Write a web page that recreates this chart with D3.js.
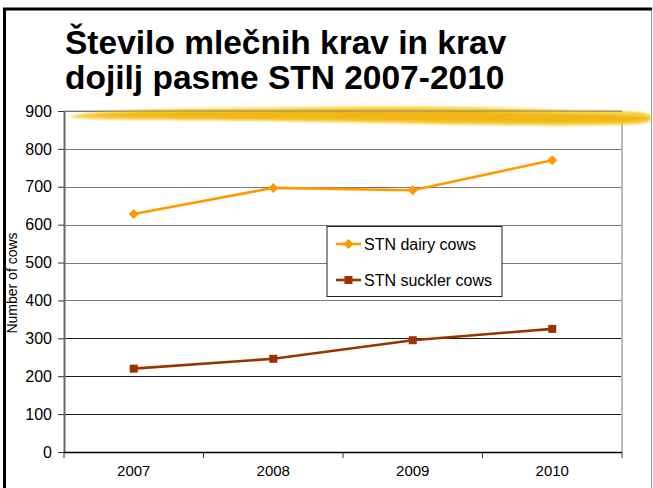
<!DOCTYPE html>
<html>
<head>
<meta charset="utf-8">
<script src="https://cdn.jsdelivr.net/npm/d3@7"></script>
<style>
  html, body { margin: 0; padding: 0; background: #fff; }
  svg { display: block; font-family: "Liberation Sans", Arial, sans-serif; }
</style>
</head>
<body>
<svg id="chart" width="653" height="488"></svg>
<script>
// Chart data
const years = ["2007", "2008", "2009", "2010"];
const dairyCows = [628, 697, 691, 770];
const sucklerCows = [220, 246, 295, 325];
const yTicks = [0, 100, 200, 300, 400, 500, 600, 700, 800, 900];
const seriesNames = ["STN dairy cows", "STN suckler cows"];
const titleLines = ["Število mlečnih krav in krav", "dojilj pasme STN 2007-2010"];
const yTitle = "Number of cows";

const svg = d3.select("#chart");
const W = 653, H = 488;
const plot = { left: 64, right: 622, top: 111, bottom: 452 };

// Slide frame
svg.append("line").attr("x1", 4.5).attr("x2", 4.5).attr("y1", 8).attr("y2", H)
  .attr("stroke", "#000").attr("stroke-width", 3);
svg.append("line").attr("x1", 3).attr("x2", 652).attr("y1", 9).attr("y2", 9)
  .attr("stroke", "#000").attr("stroke-width", 3);
svg.append("line").attr("x1", 651.5).attr("x2", 651.5).attr("y1", 10).attr("y2", H)
  .attr("stroke", "#999").attr("stroke-width", 1);

// Title
svg.append("g").selectAll("text").data(titleLines).join("text")
  .attr("x", 65).attr("y", (d, i) => 54 + i * 35)
  .attr("font-size", 33.5).attr("font-weight", "bold").attr("fill", "#000")
  .text(d => d);

// Scales
const x = d3.scaleBand().domain(years).range([plot.left, plot.right]);
const y = d3.scaleLinear().domain([0, 900]).range([plot.bottom, plot.top]);

// Gridlines
svg.append("g").selectAll("line").data(yTicks.filter(v => v > 0)).join("line")
  .attr("x1", plot.left).attr("x2", plot.right)
  .attr("y1", d => Math.round(y(d)) + 0.5).attr("y2", d => Math.round(y(d)) + 0.5)
  .attr("stroke", d => d >= 400 ? "#777" : "#1a1a1a").attr("stroke-width", 1.2);

// Plot frame (right side)
svg.append("line").attr("x1", plot.right).attr("x2", plot.right)
  .attr("y1", plot.top).attr("y2", plot.bottom)
  .attr("stroke", "#bbb").attr("stroke-width", 2);

// Decorative brush stroke across the top
const defs = svg.append("defs");
defs.append("filter").attr("id", "soft")
  .append("feGaussianBlur").attr("stdDeviation", 0.8);
const brush = svg.append("g").attr("filter", "url(#soft)");
const line = d3.line().curve(d3.curveBasis);
const outer = [[68,117],[90,112],[150,109],[260,108],[380,106],[480,107],[560,110],[620,111],[653,112],
               [653,124],[620,125],[560,126],[470,125],[380,123],[280,121],[180,120],[100,120],[68,117]];
const core = [[85,116],[140,112],[260,111],[380,110],[480,111],[560,114],[653,115],
              [653,122],[560,123],[460,122],[360,120],[240,119],[140,118],[85,116]];
brush.append("path").attr("d", line(outer)).attr("fill", "#f7cf3a").attr("opacity", 0.95);
brush.append("path").attr("d", line(core)).attr("fill", "#f1b50e").attr("opacity", 0.9);

// Top frame line (over the brush)
svg.append("line").attr("x1", plot.left).attr("x2", plot.right)
  .attr("y1", plot.top).attr("y2", plot.top)
  .attr("stroke", "#777").attr("stroke-width", 1.2).attr("opacity", 0.8);

// Y axis
const yAxis = svg.append("g").attr("transform", `translate(${plot.left},0)`)
  .call(d3.axisLeft(y).tickValues(yTicks).tickSize(6).tickSizeOuter(0).tickPadding(6));
yAxis.select(".domain").attr("stroke", "#666").attr("stroke-width", 2);
yAxis.selectAll(".tick line").attr("stroke", "#333");
yAxis.selectAll(".tick text").attr("font-size", 16).attr("fill", "#000")
  .attr("font-family", "Liberation Sans, Arial, sans-serif");

// X axis
const xAxis = svg.append("g").attr("transform", `translate(0,${plot.bottom})`)
  .call(d3.axisBottom(x).tickSize(0).tickPadding(13));
xAxis.select(".domain").remove();
xAxis.selectAll(".tick text").attr("font-size", 15).attr("fill", "#000")
  .attr("font-family", "Liberation Sans, Arial, sans-serif");
svg.append("line").attr("x1", plot.left).attr("x2", plot.right)
  .attr("y1", plot.bottom + 0.5).attr("y2", plot.bottom + 0.5)
  .attr("stroke", "#000").attr("stroke-width", 1.3);
const boundaries = d3.range(years.length + 1).map(i => plot.left + i * x.step());
svg.append("g").selectAll("line").data(boundaries).join("line")
  .attr("x1", d => d).attr("x2", d => d)
  .attr("y1", plot.bottom).attr("y2", plot.bottom + 6)
  .attr("stroke", "#333").attr("stroke-width", 1);

// Y axis title
svg.append("text")
  .attr("transform", `translate(17,283) rotate(-90)`)
  .attr("text-anchor", "middle").attr("font-size", 14).attr("fill", "#000")
  .text(yTitle);

// Series
const cx = d => x(d) + x.bandwidth() / 2;
const diamond = d3.symbol().type(d3.symbolSquare).size(50);
const square = d3.symbol().type(d3.symbolSquare).size(64);
const series = [
  { name: seriesNames[0], values: dairyCows, color: "#ff9900", shape: diamond, rot: 45 },
  { name: seriesNames[1], values: sucklerCows, color: "#993300", shape: square, rot: 0 }
];
const pathGen = d3.line().x((d, i) => cx(years[i])).y(d => y(d));
series.forEach(s => {
  svg.append("path").attr("d", pathGen(s.values))
    .attr("fill", "none").attr("stroke", s.color).attr("stroke-width", 2.6);
  svg.append("g").selectAll("path").data(s.values).join("path")
    .attr("transform", (d, i) => `translate(${cx(years[i])},${y(d)}) rotate(${s.rot})`)
    .attr("d", s.shape())
    .attr("fill", s.color);
});

// Legend
const lg = svg.append("g");
lg.append("rect").attr("x", 327).attr("y", 226.5).attr("width", 175).attr("height", 70)
  .attr("fill", "#fff").attr("stroke", "#222").attr("stroke-width", 1);
series.forEach((s, i) => {
  const ly = 244 + i * 36;
  lg.append("line").attr("x1", 336).attr("x2", 361).attr("y1", ly).attr("y2", ly)
    .attr("stroke", s.color).attr("stroke-width", 2.6);
  lg.append("path").attr("transform", `translate(348.5,${ly}) rotate(${s.rot})`)
    .attr("d", s.shape()).attr("fill", s.color);
  lg.append("text").attr("x", 364).attr("y", ly + 5.5)
    .attr("font-size", 16).attr("fill", "#000").text(s.name);
});
</script>
</body>
</html>
